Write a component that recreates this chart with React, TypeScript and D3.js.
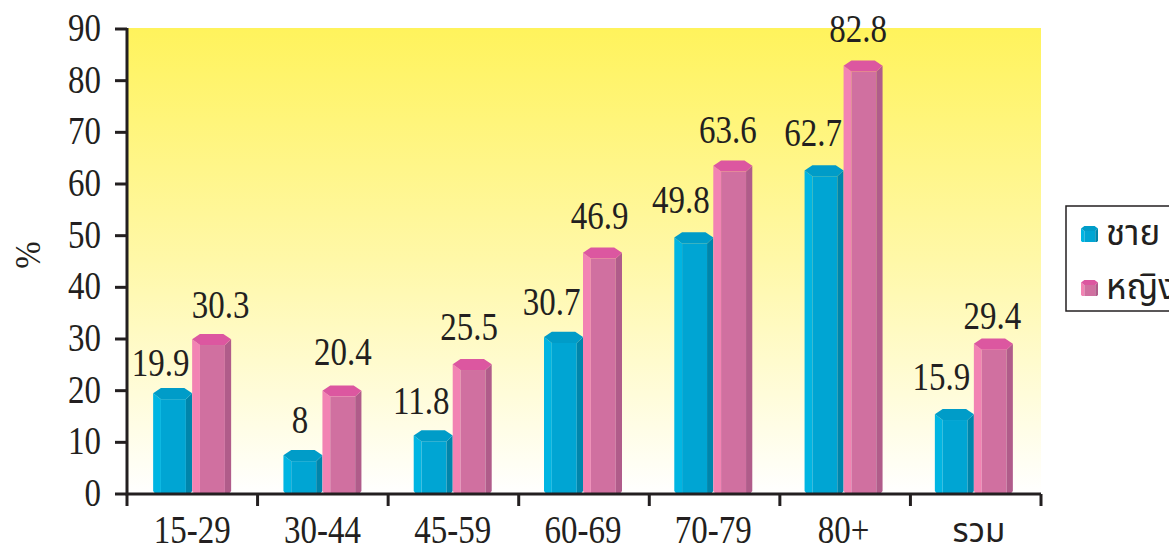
import React from "react";
import * as d3 from "d3";

const categories = ["15-29", "30-44", "45-59", "60-69", "70-79", "80+", "รวม"];
const maleValues = [19.9, 8, 11.8, 30.7, 49.8, 62.7, 15.9];
const femaleValues = [30.3, 20.4, 25.5, 46.9, 63.6, 82.8, 29.4];
const yTicks = [0, 10, 20, 30, 40, 50, 60, 70, 80, 90];
const seriesNames = ["ชาย", "หญิง"];

// label nudges off the default "centred above bar" position, in px
const maleNudgeX = [-12, -3, -12, -12, -13, -11, -13];
const femaleNudgeX = [9, 1, -3, -3, -5, -5, -1];
const maleGap = [28, 33, 32, 33, 37, 37, 35];
const femaleGap = [32, 37, 35, 36, 35, 37, 26];

const W = 1169, H = 546;
const L = 127, R = 1041, T = 29, B = 494;
const BW = 39;

const blue = { left: "#00b5e2", front: "#00a5d3", right: "#0085ab", top: "#009cc8" };
const pink = { left: "#f283b3", front: "#d070a0", right: "#b05c8a", top: "#dc57a0" };
type Pal = typeof blue;

const SERIF = "'Liberation Serif', serif";
const THAI = "'Noto Sans Thai', 'Noto Sans', 'DejaVu Sans', sans-serif";

function Num({ x, y, children, anchor = "middle", size = 33 }: any) {
  return (
    <text transform={`translate(${x},${y}) scale(1,1.2)`} textAnchor={anchor} fontFamily={SERIF}
      fontSize={size} fill="#231f20" dominantBaseline="central">{children}</text>
  );
}

function Prism({ x, w, yTop, yBase, pal }: { x: number; w: number; yTop: number; yBase: number; pal: Pal }) {
  const s = w * 0.2;           // side face width
  const c = w * 0.15;          // cap half height
  return (
    <g>
      <path d={`M${x},${yTop}L${x + s},${yTop + c}L${x + s},${yBase}L${x + s * 0.3},${yBase}L${x},${yBase - c * 0.5}Z`} fill={pal.left} />
      <rect x={x + s} y={yTop + c} width={w - 1.8 * s} height={yBase - yTop - c} fill={pal.front} />
      <path d={`M${x + w},${yTop}L${x + w - s * 0.8},${yTop + c}L${x + w - s * 0.8},${yBase}L${x + w - s * 0.3},${yBase}L${x + w},${yBase - c * 0.5}Z`} fill={pal.right} />
      <path d={`M${x},${yTop}L${x + s},${yTop - c * 0.9}L${x + w - s},${yTop - c * 0.9}L${x + w},${yTop}L${x + w - s * 0.8},${yTop + c}L${x + s},${yTop + c}Z`} fill={pal.top} />
    </g>
  );
}

export default function App() {
  const y = d3.scaleLinear().domain([0, 90]).range([B, T]);
  const barY = d3.scaleLinear().domain([0, 90]).range([497, 28.2]);
  const x = d3.scaleBand<string>().domain(categories).range([127, 1039]);
  const barX = (i: number) => x(categories[i])! + (x.bandwidth() - 2 * BW) / 2;

  return (
    <svg width={W} height={H} style={{ position: "absolute", left: 0, top: 0, background: "#fff" }}>
      <defs>
        <linearGradient id="bg" x1="0" y1="0" x2="0" y2="1">
          <stop offset="0" stopColor="#fff35c" />
          <stop offset="0.5" stopColor="#fff8a8" />
          <stop offset="1" stopColor="#ffffff" />
        </linearGradient>
      </defs>
      <rect x={L} y={T - 1} width={R - L} height={B - T + 1} fill="url(#bg)" />

      {categories.map((c, i) => (
        <g key={c}>
          <Prism x={barX(i)} w={BW} yTop={barY(maleValues[i])} yBase={B} pal={blue} />
          <Prism x={barX(i) + BW} w={BW} yTop={barY(femaleValues[i])} yBase={B} pal={pink} />
        </g>
      ))}

      <path d={`M${L},${T - 1}V${B}H${R}`} fill="none" stroke="#231f20" strokeWidth={3} />
      {yTicks.map((t) => (
        <g key={t}>
          <line x1={L - 12} x2={L} y1={y(t)} y2={y(t)} stroke="#231f20" strokeWidth={3} />
          <Num x={101} y={y(t) - 1} anchor="end">{t}</Num>
        </g>
      ))}
      {d3.range(categories.length + 1).map((i) => {
        const tx = L + (i * (R - L)) / categories.length;
        return <line key={i} x1={tx} x2={tx} y1={B} y2={B + 12} stroke="#231f20" strokeWidth={3} />;
      })}
      {categories.map((c, i) =>
        i < categories.length - 1 ? (
          <Num key={c} x={x(c)! + x.bandwidth() / 2} y={530}>{c}</Num>
        ) : (
          <text key={c} x={x(c)! + x.bandwidth() / 2 + 5} y={532} textAnchor="middle" dominantBaseline="central"
            fontFamily={THAI} fontSize={33} fill="#231f20">{c}</text>
        )
      )}

      {categories.map((c, i) => (
        <g key={c}>
          <Num x={barX(i) + BW / 2 + maleNudgeX[i]} y={y(maleValues[i]) - maleGap[i]}>{maleValues[i]}</Num>
          <Num x={barX(i) + BW * 1.5 + femaleNudgeX[i]} y={y(femaleValues[i]) - femaleGap[i]}>{femaleValues[i]}</Num>
        </g>
      ))}

      <text transform="translate(28,255) rotate(-90) scale(1,1.1)" textAnchor="middle" dominantBaseline="central"
        fontFamily={SERIF} fontSize={33} fill="#231f20">%</text>

      <rect x={1066} y={206} width={110} height={105} fill="#fff" stroke="#231f20" strokeWidth={1.5} />
      {seriesNames.map((n, i) => {
        const ly = 234 + i * 54;
        const pal = i === 0 ? blue : pink;
        return (
          <g key={n}>
            <Prism x={1081} w={17} yTop={ly - 5.6} yBase={ly + 8} pal={pal} />
            <text x={1106} y={ly} dominantBaseline="central" fontFamily={THAI} fontSize={35} fill="#231f20">{n}</text>
          </g>
        );
      })}
    </svg>
  );
}
